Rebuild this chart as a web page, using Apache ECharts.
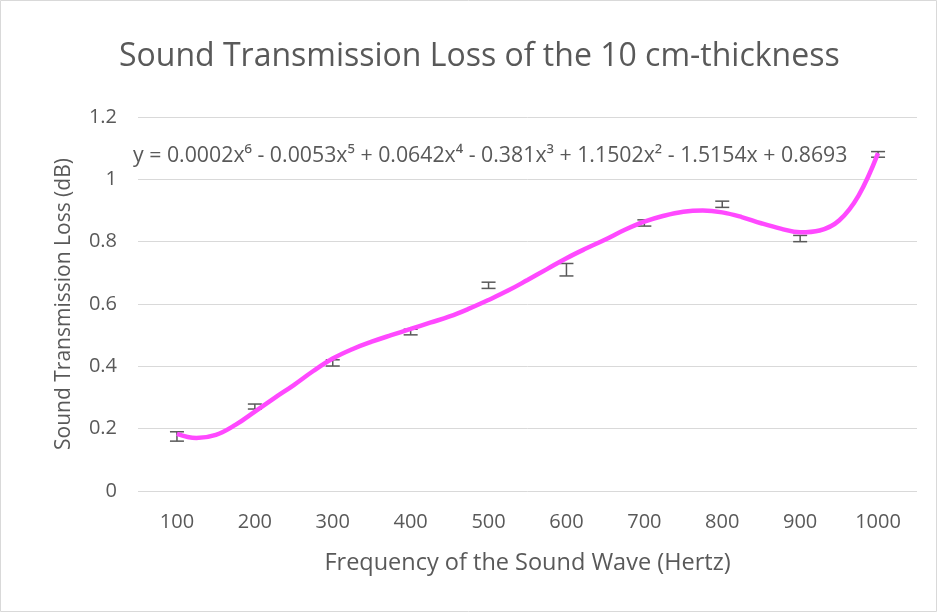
<!doctype html>
<html lang="en">
  <head>
    <meta charset="UTF-8" />
    <title>Sound Transmission Loss</title>
    <script src="https://cdn.jsdelivr.net/npm/echarts@6/dist/echarts.min.js"></script>
    <style>
      html, body { margin: 0; padding: 0; background: #fff; }
      #chart { width: 938px; height: 613px; }
    </style>
  </head>
  <body>
    <div id="chart"></div>
    <script>
      // measured values (dB) with error bar half-widths
      const frequencies = ['100', '200', '300', '400', '500', '600', '700', '800', '900', '1000'];
      const lossValues = [0.175, 0.271, 0.411, 0.51, 0.66, 0.71, 0.86, 0.92, 0.81, 1.08];
      const lossErrors = [0.015, 0.008, 0.01, 0.009, 0.01, 0.02, 0.01, 0.01, 0.01, 0.009];

      // polynomial trendline, every 25 Hz
      const trendX = [100, 125, 150, 175, 200, 225, 250, 275, 300, 325, 350, 375, 400, 425, 450, 475, 500, 525, 550,
        575, 600, 625, 650, 675, 700, 725, 750, 775, 800, 825, 850, 875, 900, 925, 950, 975, 1000];
      const trendY = [0.183, 0.17, 0.18, 0.212, 0.255, 0.298, 0.34, 0.385, 0.425, 0.455, 0.479, 0.5, 0.52, 0.54, 0.56,
        0.585, 0.613, 0.643, 0.677, 0.712, 0.747, 0.778, 0.807, 0.838, 0.864, 0.883, 0.896, 0.9, 0.894, 0.879, 0.859,
        0.842, 0.83, 0.836, 0.868, 0.948, 1.084];

      const yTicks = [0, 0.2, 0.4, 0.6, 0.8, 1, 1.2];
      const equation = 'y = 0.0002x⁶ - 0.0053x⁵ + 0.0642x⁴ - 0.381x³ + 1.1502x² - 1.5154x + 0.8693';

      const textColor = '#595959';
      const font = '"Open Sans", "Noto Sans", sans-serif';

      const chart = echarts.init(document.getElementById('chart'));

      const option = {
        animation: false,
        backgroundColor: '#fff',
        title: {
          text: 'Sound Transmission Loss of the 10 cm-thickness',
          left: 114,
          top: 36,
          textStyle: { color: textColor, fontSize: 32, fontWeight: 'normal', fontFamily: font },
        },
        grid: { left: 138, right: 21, top: 117, bottom: 122 },
        xAxis: [
          {
            type: 'category',
            data: frequencies,
            boundaryGap: true,
            name: 'Frequency of the Sound Wave (Hertz)',
            nameLocation: 'middle',
            nameGap: 60,
            nameTextStyle: { color: textColor, fontSize: 23.5, fontFamily: font },
            axisLine: { show: false },
            axisTick: { show: false },
            axisLabel: { color: textColor, fontSize: 20, fontFamily: font, margin: 21 },
          },
          {
            type: 'value',
            min: 50,
            max: 1050,
            show: false,
          },
        ],
        yAxis: {
          type: 'value',
          min: 0,
          max: 1.2,
          interval: 0.2,
          name: 'Sound Transmission Loss (dB)',
          nameLocation: 'middle',
          nameGap: 63,
          nameTextStyle: { color: textColor, fontSize: 21, fontFamily: font },
          axisLine: { show: false },
          axisTick: { show: false },
          axisLabel: {
            color: textColor,
            fontSize: 20,
            fontFamily: font,
            margin: 21,
            formatter: (v) => {
              const t = yTicks.find((k) => Math.abs(k - v) < 1e-6);
              return t === undefined ? '' : String(t);
            },
          },
          splitLine: { lineStyle: { color: '#d9d9d9', width: 1 } },
        },
        graphic: [
          {
            type: 'rect',
            shape: { x: 0.5, y: 0.5, width: 936, height: 611 },
            style: { fill: 'none', stroke: '#d9d9d9', lineWidth: 1 },
            silent: true,
          },
          {
            type: 'text',
            left: 133,
            top: 145,
            style: { text: equation, fill: textColor, font: '21.3px ' + font },
            silent: true,
          },
        ],
        series: [
          {
            type: 'custom',
            xAxisIndex: 0,
            data: lossValues.map((v, i) => [i, v - lossErrors[i], v + lossErrors[i]]),
            renderItem: (params, api) => {
              const lo = api.coord([api.value(0), api.value(1)]);
              const hi = api.coord([api.value(0), api.value(2)]);
              const w = 7;
              const st = { stroke: '#595959', lineWidth: 1.5 };
              return {
                type: 'group',
                children: [
                  { type: 'line', shape: { x1: lo[0], y1: lo[1], x2: hi[0], y2: hi[1] }, style: st },
                  { type: 'line', shape: { x1: lo[0] - w, y1: lo[1], x2: lo[0] + w, y2: lo[1] }, style: st },
                  { type: 'line', shape: { x1: hi[0] - w, y1: hi[1], x2: hi[0] + w, y2: hi[1] }, style: st },
                ],
              };
            },
            z: 2,
          },
          {
            type: 'line',
            xAxisIndex: 1,
            data: trendX.map((x, i) => [x, trendY[i]]),
            smooth: 0.4,
            showSymbol: false,
            lineStyle: { color: '#ff49ff', width: 4.5 },
            z: 3,
          },
        ],
      };

      chart.setOption(option);
    </script>
  </body>
</html>
